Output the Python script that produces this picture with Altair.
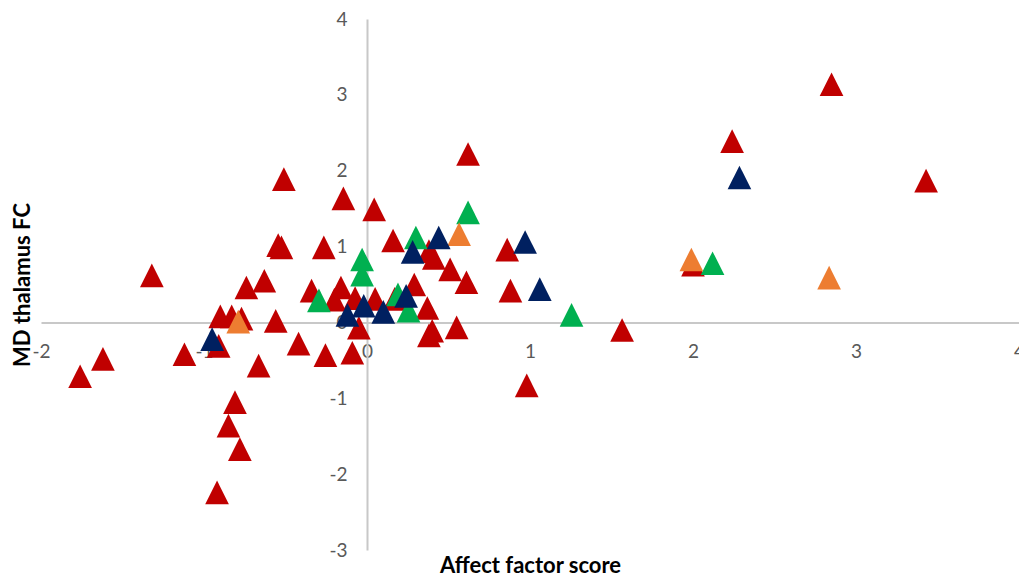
import altair as alt
import pandas as pd

# ---- data ----
red_x = [-1.76, -1.62, -1.32, -1.12, -0.92, -0.91, -0.90, -0.83, -0.77, -0.81, -0.85, -0.78,
         -0.74, -0.63, -0.665, -0.56, -0.51, -0.545, -0.525, -0.42, -0.34, -0.265, -0.255,
         -0.20, -0.16, -0.145, -0.09, -0.073, -0.05, 0.044, 0.05, 0.16, 0.17, 0.29, 0.37,
         0.38, 0.41, 0.40, 0.38, 0.51, 0.55, 0.61, 0.62, 0.86, 0.88, 0.98, 1.565, 2.0,
         2.24, 2.85, 3.43]
red_y = [-0.71, -0.48, 0.62, -0.42, -2.24, -0.31, 0.08, 0.08, 0.05, -1.05, -1.36, -1.67,
         0.46, 0.55, -0.57, 0.02, 1.89, 1.02, 0.99, -0.28, 0.42, 0.99, -0.43,
         0.30, 0.46, 1.635, -0.40, 0.32, -0.07, 1.49, 0.31, 1.08, 0.31, 0.50, 0.19,
         0.94, 0.85, -0.11, -0.17, 0.70, -0.065, 0.53, 2.22, 0.96, 0.42, -0.83, -0.10, 0.76,
         2.39, 3.14, 1.87]

green_x = [-0.295, -0.03, -0.03, 0.19, 0.255, 0.30, 0.62, 1.255, 2.12]
green_y = [0.29, 0.83, 0.63, 0.37, 0.155, 1.12, 1.45, 0.10, 0.78]

orange_x = [-0.79, 0.565, 1.99, 2.835]
orange_y = [0.01, 1.165, 0.83, 0.59]

blue_x = [-0.95, -0.12, -0.02, 0.10, 0.24, 0.28, 0.44, 0.97, 1.06, 2.285]
blue_y = [-0.22, 0.10, 0.22, 0.14, 0.35, 0.93, 1.12, 1.06, 0.44, 1.91]

x_ticks = [-2, -1, 0, 1, 2, 3, 4]
y_ticks = [-3, -2, -1, 0, 1, 2, 3, 4]

groups = ["Group 1", "Group 2", "Group 3", "Group 4"]
colors = ["#C00000", "#00B050", "#ED7D31", "#002060"]

rows = []
for g, xs, ys in zip(groups, [red_x, green_x, orange_x, blue_x], [red_y, green_y, orange_y, blue_y]):
    for a, b in zip(xs, ys):
        rows.append({"x": a, "y": b, "group": g})
df = pd.DataFrame(rows)

W, H = 978, 531
LEFT, TOP = 33, 11
x_off = -(H - H * 4 / 7)   # move x axis up to y = 0
y_off = -(W * 2 / 6)       # move y axis right to x = 0
axis_page_x = 8 + LEFT + W * 2 / 6

font = "Lato"
hyphen = "'' + datum.value"

chart = alt.Chart(df).mark_point(
    shape="M0,-1L1,1L-1,1Z", filled=True, size=560, opacity=1, strokeWidth=0
).encode(
    x=alt.X("x:Q",
            scale=alt.Scale(domain=[-2, 4], nice=False, zero=False),
            axis=alt.Axis(values=x_ticks, offset=x_off, ticks=False, grid=False,
                          labelPadding=29, labelBaseline="middle", labelFlush=False,
                          labelFontSize=19, labelFont=font, labelColor="#595959",
                          labelExpr=hyphen,
                          domainColor="#c8c8c8", domainWidth=2,
                          title="Affect factor score", titleFont=font, titleFontSize=22,
                          titleFontWeight="bold", titleColor="#000000",
                          titleBaseline="alphabetic", titleX=W / 2, titleY=250,
                          labelOverlap=False)),
    y=alt.Y("y:Q",
            scale=alt.Scale(domain=[-3, 4], nice=False, zero=False),
            axis=alt.Axis(values=y_ticks, offset=y_off, ticks=False, grid=False,
                          labelPadding=20, labelBaseline="middle", labelFlush=False,
                          labelFontSize=19, labelFont=font, labelColor="#595959",
                          labelExpr=hyphen,
                          domainColor="#c8c8c8", domainWidth=2,
                          title="MD thalamus FC", titleFont=font, titleFontSize=22,
                          titleFontWeight="bold", titleColor="#000000",
                          titleAngle=270, titleBaseline="alphabetic", titleAlign="center",
                          titleX=29 - axis_page_x, titleY=H / 2,
                          labelOverlap=False)),
    color=alt.Color("group:N", scale=alt.Scale(domain=groups, range=colors), legend=None),
).properties(
    width=W, height=H,
    autosize=alt.AutoSizeParams(type="none"),
    padding={"left": LEFT, "top": TOP, "right": 0, "bottom": 30},
    background="white",
).configure_view(stroke=None)

chart.save("out.html", embed_options={"renderer": "svg", "actions": False})
